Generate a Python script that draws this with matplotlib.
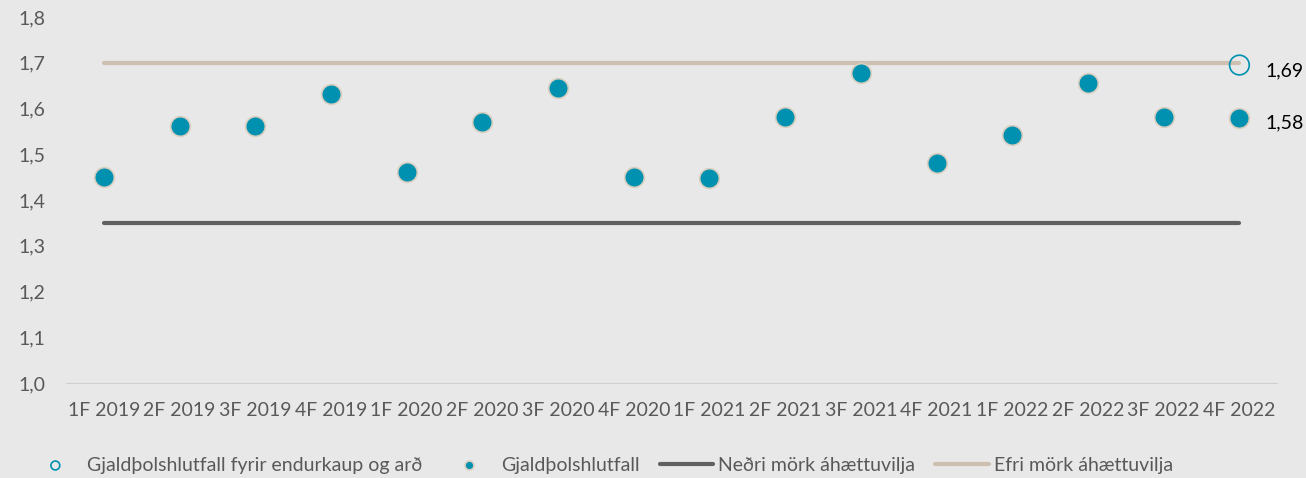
import matplotlib.pyplot as plt
import numpy as np

plt.rcParams['font.family'] = ['Lato', 'DejaVu Sans']

quarters = ["1F 2019", "2F 2019", "3F 2019", "4F 2019",
            "1F 2020", "2F 2020", "3F 2020", "4F 2020",
            "1F 2021", "2F 2021", "3F 2021", "4F 2021",
            "1F 2022", "2F 2022", "3F 2022", "4F 2022"]
solvency = [1.45, 1.562, 1.562, 1.632, 1.461, 1.57, 1.645, 1.45,
            1.448, 1.581, 1.678, 1.481, 1.542, 1.656, 1.581, 1.58]
solvency_before = 1.695  # last quarter only, label 1,69
lower_limit = 1.35
upper_limit = 1.70

bg = "#E8E8E8"
teal = "#0090B0"
grey_text = "#595959"

fig = plt.figure(figsize=(13.06, 4.78), dpi=100, facecolor=bg)
ax = fig.add_axes([0.0505, 0.1987, 0.9275, 0.7657], facecolor=bg)

x = np.arange(len(quarters))

ax.plot(x, [lower_limit] * len(x), color="#606060", lw=3, solid_capstyle="round",
        label="Neðri mörk áhættuvilja", zorder=2)
ax.plot(x, [upper_limit] * len(x), color="#CDC0B0", lw=3, solid_capstyle="round",
        label="Efri mörk áhættuvilja", zorder=2)
ax.scatter(x, solvency, s=200, color=teal, edgecolors="#D8CFC0", linewidths=1.2,
           label="Gjaldþolshlutfall", zorder=3)
ax.scatter([x[-1]], [solvency_before], s=200, facecolors="none", edgecolors=teal,
           linewidths=1.2, label="Gjaldþolshlutfall fyrir endurkaup og arð", zorder=3)

ax.annotate("1,69", (x[-1], solvency_before), xytext=(19, -8), textcoords="offset points",
            fontsize=14, color="black")
ax.annotate("1,58", (x[-1], solvency[-1]), xytext=(19, -8), textcoords="offset points",
            fontsize=14, color="black")

ax.set_xlim(-0.5, len(x) - 0.5)
ax.set_ylim(1.0, 1.8)
ax.set_yticks(np.arange(1.0, 1.81, 0.1))
ax.set_yticklabels([f"{v:.1f}".replace(".", ",") for v in np.arange(1.0, 1.81, 0.1)])
ax.set_xticks(x)
ax.set_xticklabels(quarters)
ax.tick_params(axis="both", length=0, labelsize=14, labelcolor=grey_text)
ax.tick_params(axis="x", pad=14)
ax.tick_params(axis="y", pad=15)

for side in ["top", "right", "left"]:
    ax.spines[side].set_visible(False)
ax.spines["bottom"].set_color("#D0D0D0")

handles, labels = ax.get_legend_handles_labels()
order = [3, 2, 0, 1]
fig.legend([handles[i] for i in order], [labels[i] for i in order],
           loc="center", bbox_to_anchor=(0.460, 0.027), ncol=4, frameon=False,
           fontsize=14, labelcolor=grey_text, columnspacing=1.05, handlelength=2.73,
           handletextpad=0.26, markerscale=0.45)

fig.savefig("out.png", dpi=100, facecolor=bg)
